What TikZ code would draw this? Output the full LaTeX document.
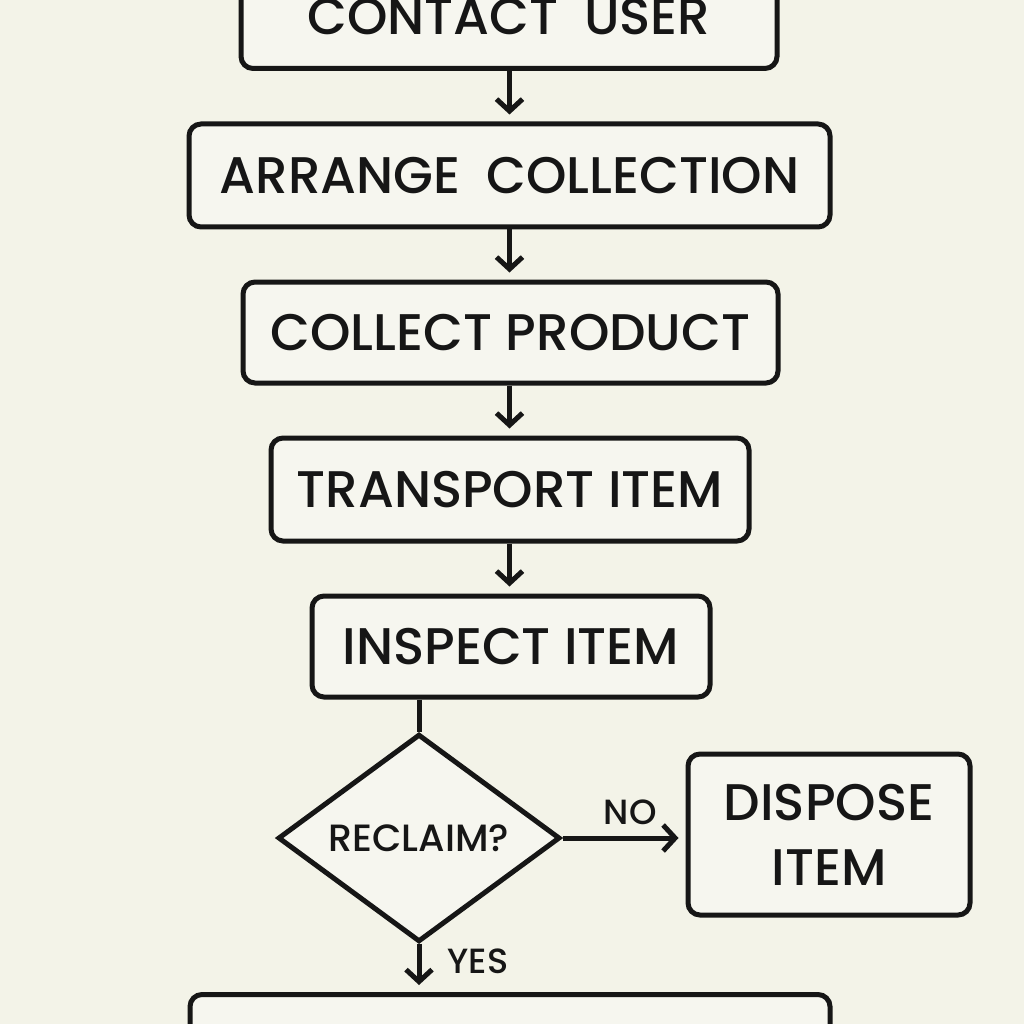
\documentclass[tikz,border=0pt]{standalone}
\usepackage{fontspec}
\setmainfont{Poppins}[UprightFont={* Medium}]
\usetikzlibrary{shapes.geometric,arrows.meta}
\definecolor{bg}{RGB}{243,243,232}
\definecolor{boxfill}{RGB}{246,246,239}
\definecolor{ink}{RGB}{22,22,22}
\newcommand{\widegap}{\hspace{0.5em}}
\begin{document}
\begin{tikzpicture}[x=1pt,y=-1pt,
  stepbox/.style={draw=ink,line width=5pt,rounded corners=12pt,fill=boxfill,inner sep=0pt,align=center,text=ink,font=\fontsize{51.5}{65}\selectfont},
  decision/.style={diamond,draw=ink,line width=5pt,fill=boxfill,inner sep=0pt,minimum width=282pt,minimum height=200pt,text=ink,font=\fontsize{38}{46}\selectfont},
  flow/.style={draw=ink,line width=5pt,-{Straight Barb[length=12pt,width=26pt,line width=5pt]},shorten >=7pt},
  plain/.style={draw=ink,line width=5pt},
  lbl/.style={font=\fontsize{35}{40}\selectfont,inner sep=0pt,text=ink}]
\fill[bg] (0,0) rectangle (1024,1024);
\useasboundingbox (0,0) rectangle (1024,1024);
\clip (0,0) rectangle (1024,1024);
\node[stepbox,minimum width=536pt,minimum height=103pt] (contact) at (509,17) {CONTACT\widegap USER};
\node[stepbox,minimum width=641pt,minimum height=103pt] (arrange) at (509.5,175.5) {ARRANGE\widegap COLLECTION};
\node[stepbox,minimum width=535pt,minimum height=101pt] (collect) at (510.5,332.5) {COLLECT PRODUCT};
\node[stepbox,minimum width=478pt,minimum height=103pt] (transport) at (510,489.5) {TRANSPORT ITEM};
\node[stepbox,minimum width=398pt,minimum height=101pt] (inspect) at (511,646.5) {INSPECT ITEM};
\node[decision] (reclaim) at (419,838) {RECLAIM?};
\node[stepbox,minimum width=282pt,minimum height=161pt] (dispose) at (829,834.5) {DISPOSE\\ITEM};
\node[stepbox,minimum width=640pt,minimum height=103pt] (next) at (510,1046) {};
\draw[flow] (contact.south -| arrange.north) -- (arrange.north);
\draw[flow] (arrange.south) -- (arrange.south |- collect.north);
\draw[flow] (collect.south -| arrange.south) -- (arrange.south |- transport.north);
\draw[flow] (transport.south -| arrange.south) -- (arrange.south |- inspect.north);
\draw[plain] (reclaim.north |- inspect.south) -- (reclaim.north);
\draw[flow] (reclaim.east) -- (dispose.west |- reclaim.east) node[lbl,pos=0.55,above=11pt] (no) {NO};
\draw[flow] (reclaim.south) -- (reclaim.south |- next.north) node[lbl,pos=0.35,right=26pt] (yes) {YES};
\end{tikzpicture}
\end{document}
